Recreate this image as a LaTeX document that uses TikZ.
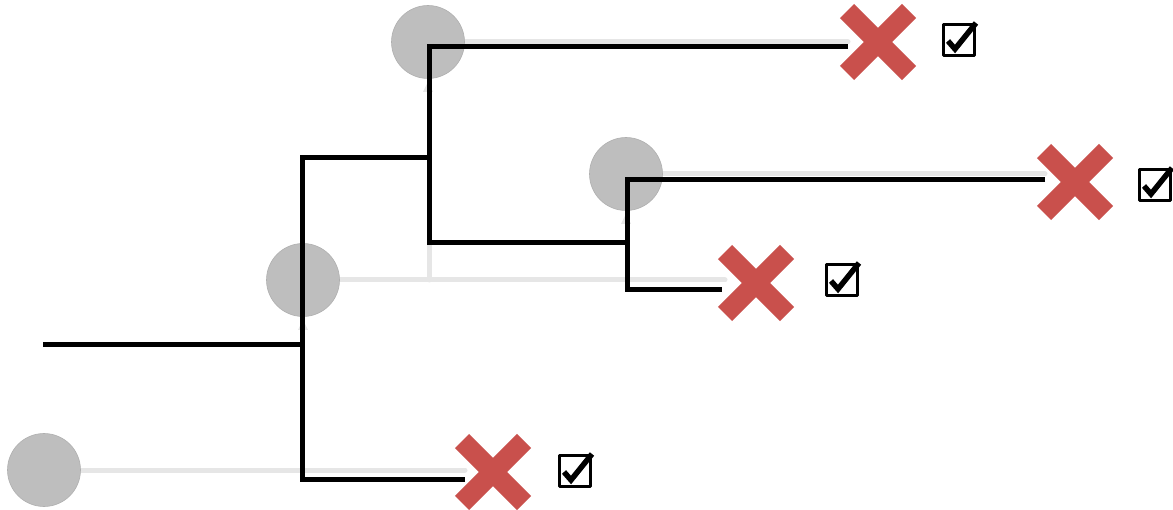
\documentclass[tikz,border=0pt]{standalone}
\usepackage{tikz}
\usetikzlibrary{shapes.misc}

\definecolor{rouge}{HTML}{C9504C}
\definecolor{disque}{HTML}{BEBEBE}
\definecolor{trace}{HTML}{E6E6E6}

\tikzset{
  arbre/.style={line width=5pt, line join=miter, line cap=butt},
  fantome/.style={color=trace, line width=5pt},
  sommet/.style={circle, fill=disque, draw=disque!92!black, line width=0.6pt, minimum size=73pt, inner sep=0pt},
  echec/.style={cross out, draw=rouge, line width=20pt, line cap=butt, minimum size=42pt, inner sep=0pt},
  caseok/.style={draw, line width=3.5pt, minimum size=31pt, inner sep=0pt},
  coche/.style={line width=5.5pt, line join=miter, line cap=butt}
}

\begin{document}
\begin{tikzpicture}[line cap=round,line join=round,x=1pt,y=-1pt]
		\useasboundingbox (0,0) rectangle (1173,510);
		% sommets gris
		\coordinate (g1) at (465,470);
		\coordinate (g2) at (725,280);
		\coordinate (g3) at (848,42);
		\coordinate (g4) at (1045,174);
		\coordinate (g5) at (429,280);
		\draw[fantome] (44,470)--(g1);
		\draw[fantome] (303,280)--(g2);
		\draw[fantome] (428,42)--(g3);
		\draw[fantome] (626,174)--(g4);
		\draw[fantome] (g5)--(429,60);
		\node[sommet] (a) at (44,470) {};
		\node[sommet] (b) at (303,280) {};
		\node[sommet] (c) at (428,42) {};
		\node[sommet] (d) at (626,174) {};
		\foreach \s in {b,c,d}
			\fill[trace] (\s.south) ++(0,3) -- ++(-5,10) -- ++(10,0) -- cycle;
		% arbre noir
		\coordinate (r) at (43,345);
		\coordinate (k1) at (302,158);
		\coordinate (k2) at (429,243);
		\coordinate (k3) at (627,290);
		\coordinate (f1) at (848,47);
		\coordinate (f2) at (1045,180);
		\coordinate (f3) at (722,290);
		\coordinate (f4) at (465,479);
		\draw[arbre] (r)--(302,345);
		\draw[arbre] (f4) -| (k1) -- (429,158);
		\draw[arbre] (f1) -| (k2) -- (627,243);
		\draw[arbre] (f2) -| (k3) -- (f3);
		% croix et cases
		\node[echec] (x1) at (878,42) {};
		\node[echec] (x2) at (1075,182) {};
		\node[echec] (x3) at (756,283) {};
		\node[echec] (x4) at (493,472) {};
		\node[caseok] (v1) at (959,40) {};
		\node[caseok] (v2) at (1155,185) {};
		\node[caseok] (v3) at (842,280) {};
		\node[caseok] (v4) at (575,471) {};
		\foreach \v in {v1,v2,v3,v4}
			\draw[coche] (\v.center) ++(-11,1) -- ++(7,8) -- ++(21,-26);
		\end{tikzpicture}
\end{document}
